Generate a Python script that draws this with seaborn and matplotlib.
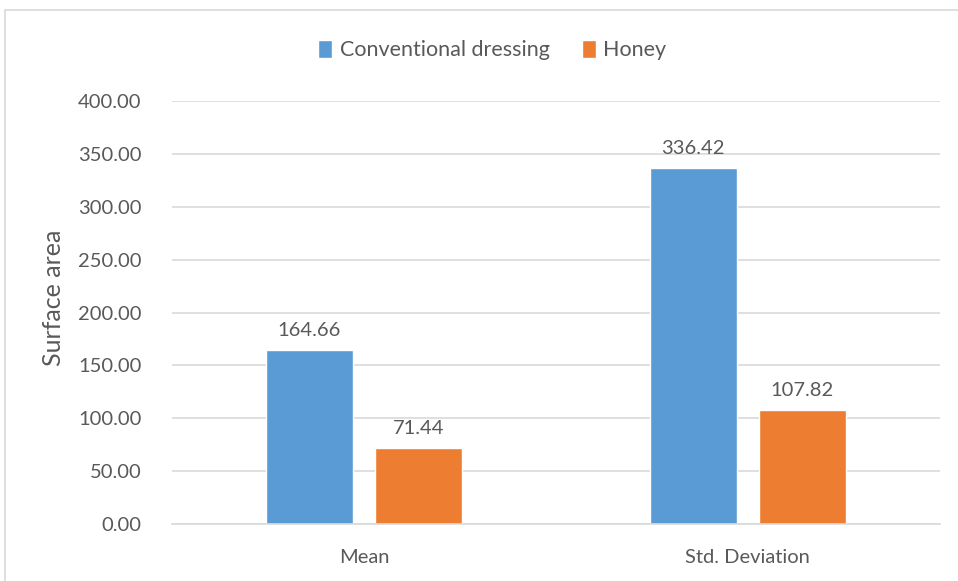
import pandas as pd
import matplotlib.pyplot as plt
import seaborn as sns
from matplotlib.patches import Rectangle
from matplotlib.ticker import FormatStrFormatter

# données
categories = ["Mean", "Std. Deviation"]
series = ["Conventional dressing", "Honey"]
conventional = [164.66, 336.42]
honey = [71.44, 107.82]
colors = ["#5B9BD5", "#ED7D31"]

df = pd.DataFrame({
    "stat": categories * 2,
    "group": [series[0]] * 2 + [series[1]] * 2,
    "value": conventional + honey,
})

sns.set_style("white")
plt.rcParams["font.family"] = ["Lato", "DejaVu Sans"]
txt = "#595959"
grid = "#D9D9D9"

fig = plt.figure(figsize=(9.58, 5.81), dpi=100)
ax = fig.add_axes([0.1795, 0.0981, 0.8015, 0.7280])

sns.barplot(data=df, x="stat", y="value", hue="group", palette=colors,
            width=0.568, gap=0.2, ax=ax, saturation=1, legend=True)

ax.set_ylim(0, 400)
ax.set_xlim(-0.5, 1.5)
ax.set_yticks(range(0, 401, 50))
ax.yaxis.set_major_formatter(FormatStrFormatter("%.2f"))
ax.grid(axis="y", color=grid, linewidth=1.2)
ax.set_axisbelow(True)
for s in ["top", "right", "left"]:
    ax.spines[s].set_visible(False)
ax.spines["bottom"].set_color(grid)
ax.spines["bottom"].set_linewidth(1.2)
ax.tick_params(axis="both", length=0, labelsize=14.5, colors=txt)
ax.tick_params(axis="x", pad=18)
ax.tick_params(axis="y", pad=22)
ax.set_xlabel("")
ax.set_ylabel("Surface area", fontsize=18, color=txt)
ax.yaxis.set_label_coords(-0.139, 0.534)

# étiquettes
for cont in ax.containers:
    ax.bar_label(cont, fmt="%.2f", padding=8, fontsize=14.5, color=txt)

# légende
leg = ax.legend(loc="center", bbox_to_anchor=(0.514, 0.914),
                bbox_transform=fig.transFigure, ncol=2,
                frameon=False, fontsize=15.5, handlelength=0.65, handleheight=0.9,
                handletextpad=0.35, columnspacing=1.5)
for t in leg.get_texts():
    t.set_color(txt)

# cadre
fig.patches.append(Rectangle((5 / 958, -0.05), 1.1, 1.05 - 10 / 581,
                             transform=fig.transFigure, fill=False,
                             edgecolor="#D9D9D9", linewidth=1.2))

plt.savefig("out.png", dpi=100)
plt.close()
